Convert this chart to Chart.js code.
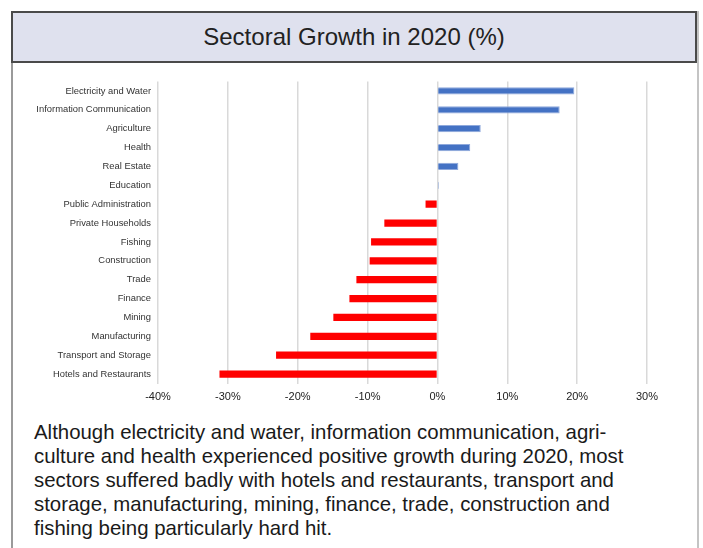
<!DOCTYPE html>
<html lang="en">

<head>
    <meta charset="UTF-8">
    <title>Sectoral Growth in 2020 (%)</title>
    <script src="https://cdn.jsdelivr.net/npm/chart.js"></script>
    <style>
        body {
            margin: 0;
            width: 703px;
            height: 548px;
            overflow: hidden;
            background: #fff;
            font-family: 'Liberation Sans', Arial, sans-serif;
        }

        .frame {
            position: absolute;
            left: 11px;
            top: 11px;
            width: 684px;
            height: 560px;
            border-left: 2px solid #9a9a9a;
            border-right: 2px solid #c4c4c4;
        }

        .title {
            position: absolute;
            left: 11px;
            top: 11px;
            width: 682px;
            height: 48px;
            background: #dfe1ee;
            border: 2px solid #4a4a4a;
            text-align: center;
            line-height: 48px;
            font-size: 24px;
            color: #222;
        }

        .chart-box {
            position: absolute;
            left: 0;
            top: 62px;
            width: 703px;
            height: 350px;
        }

        .caption {
            position: absolute;
            left: 34px;
            top: 420px;
            font-size: 20.4px;
            line-height: 24px;
            color: #1a1a1a;
            white-space: nowrap;
        }
    </style>
</head>

<body>
    <div class="frame"></div>
    <div class="title">Sectoral Growth in 2020 (%)</div>
    <div class="chart-box"><canvas id="growthChart"></canvas></div>
    <div class="caption">
        Although electricity and water, information communication, agri-<br>
        culture and health experienced positive growth during 2020, most<br>
        sectors suffered badly with hotels and restaurants, transport and<br>
        storage, manufacturing, mining, finance, trade, construction and<br>
        fishing being particularly hard hit.
    </div>

    <script>
        // sectors, top to bottom
        const sectors = [
            'Electricity and Water', 'Information Communication', 'Agriculture', 'Health',
            'Real Estate', 'Education', 'Public Administration', 'Private Households',
            'Fishing', 'Construction', 'Trade', 'Finance', 'Mining', 'Manufacturing',
            'Transport and Storage', 'Hotels and Restaurants'
        ];

        // growth in 2020, percent
        const growth = [19.6, 17.5, 6.2, 4.7, 3.0, 0.2, -1.7, -7.6,
            -9.5, -9.7, -11.6, -12.6, -14.9, -18.2, -23.1, -31.2];

        const xMin = -40;
        const xMax = 30;
        const xStep = 10;

        // blue for growth, red for contraction
        const barColors = growth.map(v => v >= 0 ? '#4472c4' : '#ff0000');
        const edgeColors = growth.map(v => v >= 0 ? '#8fa9dc' : '#ff0000');
        const edgeWidths = growth.map(v => v >= 0 ? 1 : 0);

        const ctx = document.getElementById('growthChart').getContext('2d');
        new Chart(ctx, {
            type: 'bar',
            data: {
                labels: sectors,
                datasets: [{
                    data: growth,
                    backgroundColor: barColors,
                    borderColor: edgeColors,
                    borderWidth: edgeWidths,
                    barPercentage: 0.38,
                    categoryPercentage: 1
                }]
            },
            options: {
                indexAxis: 'y',
                responsive: true,
                maintainAspectRatio: false,
                animation: false,
                layout: {
                    padding: { top: 19.5, right: 56, left: 0, bottom: 0 }
                },
                plugins: {
                    legend: { display: false },
                    tooltip: { enabled: false }
                },
                scales: {
                    x: {
                        min: xMin,
                        max: xMax,
                        ticks: {
                            stepSize: xStep,
                            padding: 7,
                            color: '#222',
                            font: { family: 'Liberation Sans', size: 11 },
                            callback: v => v + '%'
                        },
                        grid: {
                            color: '#d9d9d9',
                            lineWidth: 1.5,
                            drawTicks: false
                        },
                        border: { display: false },
                        afterFit: scale => { scale.height = 28.5; }
                    },
                    y: {
                        ticks: {
                            padding: 7,
                            color: '#333',
                            autoSkip: false,
                            font: { family: 'Liberation Sans', size: 9.4 }
                        },
                        grid: { display: false, drawTicks: false },
                        border: { display: false },
                        afterFit: scale => { scale.width = 158; }
                    }
                }
            }
        });
    </script>
</body>

</html>
